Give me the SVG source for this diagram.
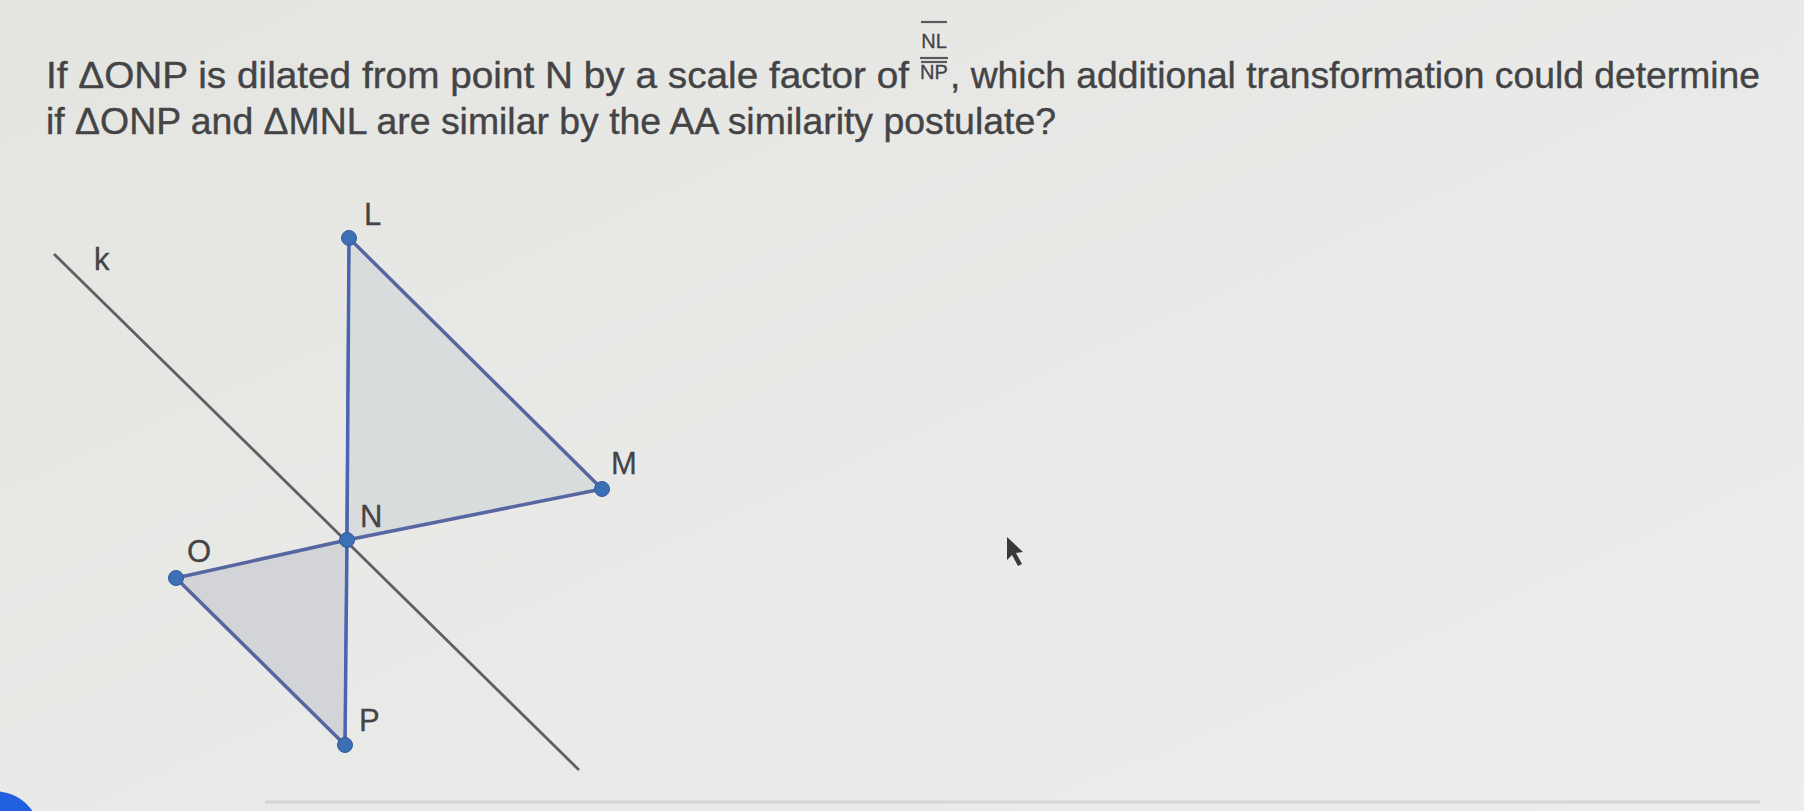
<svg xmlns="http://www.w3.org/2000/svg" width="1804" height="811" viewBox="0 0 1804 811">
<defs>
<linearGradient id="bg" x1="0" y1="0" x2="1" y2="1">
<stop offset="0" stop-color="#e4e5e1"/>
<stop offset="0.5" stop-color="#e9eae7"/>
<stop offset="1" stop-color="#eceeeb"/>
</linearGradient>
<style>
.q{font-family:"Liberation Sans",Arial,sans-serif;font-size:37px;fill:#444446;stroke:#444446;stroke-width:0.4}
.f{font-family:"Liberation Sans",Arial,sans-serif;font-size:20px;fill:#444446;stroke:#444446;stroke-width:0.3}
.lbl{font-family:"Liberation Sans",Arial,sans-serif;font-size:31px;fill:#444446;stroke:#444446;stroke-width:0.3}
.tri{stroke:#5766a0;stroke-width:3.5;stroke-linejoin:round}
.pt{fill:#3d6fb6;stroke:#2f5a9a;stroke-width:1}
</style>
</defs>
<rect width="1804" height="811" fill="url(#bg)"/>
<g id="question">
<text class="q" x="46" y="88" textLength="863" lengthAdjust="spacingAndGlyphs">If ΔONP is dilated from point N by a scale factor of</text>
<text class="q" x="950" y="88" textLength="810" lengthAdjust="spacingAndGlyphs">, which additional transformation could determine</text>
<text class="q" x="46" y="134" textLength="1010" lengthAdjust="spacingAndGlyphs">if ΔONP and ΔMNL are similar by the AA similarity postulate?</text>
</g>
<g id="fraction">
<line x1="921" y1="22" x2="947" y2="22" stroke="#5a5a5c" stroke-width="2.2"/>
<text class="f" x="934" y="48" text-anchor="middle">NL</text>
<line x1="920" y1="58" x2="948" y2="58" stroke="#5a5a5c" stroke-width="2.2"/>
<line x1="921" y1="62" x2="947" y2="62" stroke="#5a5a5c" stroke-width="2.2"/>
<text class="f" x="934" y="79" text-anchor="middle">NP</text>
</g>
<g id="triangle-LMN">
<polygon class="tri" points="349,238 602,489 347,540" fill="#d8dcdd"/>
</g>
<g id="triangle-ONP">
<polygon class="tri" points="176,578 347,540 345,745" fill="#d2d4d7"/>
</g>
<g id="connectors">
<line id="line-k" x1="54" y1="254" x2="579" y2="770" stroke="#606062" stroke-width="2.8"/>
<line x1="349" y1="238" x2="345" y2="745" stroke="#4a62b8" stroke-width="2.5"/>
</g>
<g id="node-L"><circle class="pt" cx="349" cy="238" r="7.5"/><text class="lbl" x="364" y="225">L</text></g>
<g id="node-M"><circle class="pt" cx="602" cy="489" r="7.5"/><text class="lbl" x="611" y="474">M</text></g>
<g id="node-N"><circle class="pt" cx="347" cy="540" r="7.5"/><text class="lbl" x="360" y="527">N</text></g>
<g id="node-O"><circle class="pt" cx="176" cy="578" r="7.5"/><text class="lbl" x="187" y="562">O</text></g>
<g id="node-P"><circle class="pt" cx="345" cy="745" r="7.5"/><text class="lbl" x="359" y="731">P</text></g>
<g id="label-k"><text class="lbl" x="94" y="270">k</text></g>
<g id="cursor">
<polygon points="1007,537 1007,560 1012,555 1018,566 1022,564 1016,553 1023,552" fill="#3a3a3c"/>
</g>
<g id="bottom">
<line x1="265" y1="802" x2="1760" y2="802" stroke="#d3d6d3" stroke-width="3"/>
<circle cx="-6" cy="838" r="47" fill="#1f5fe0"/>
</g>
</svg>
